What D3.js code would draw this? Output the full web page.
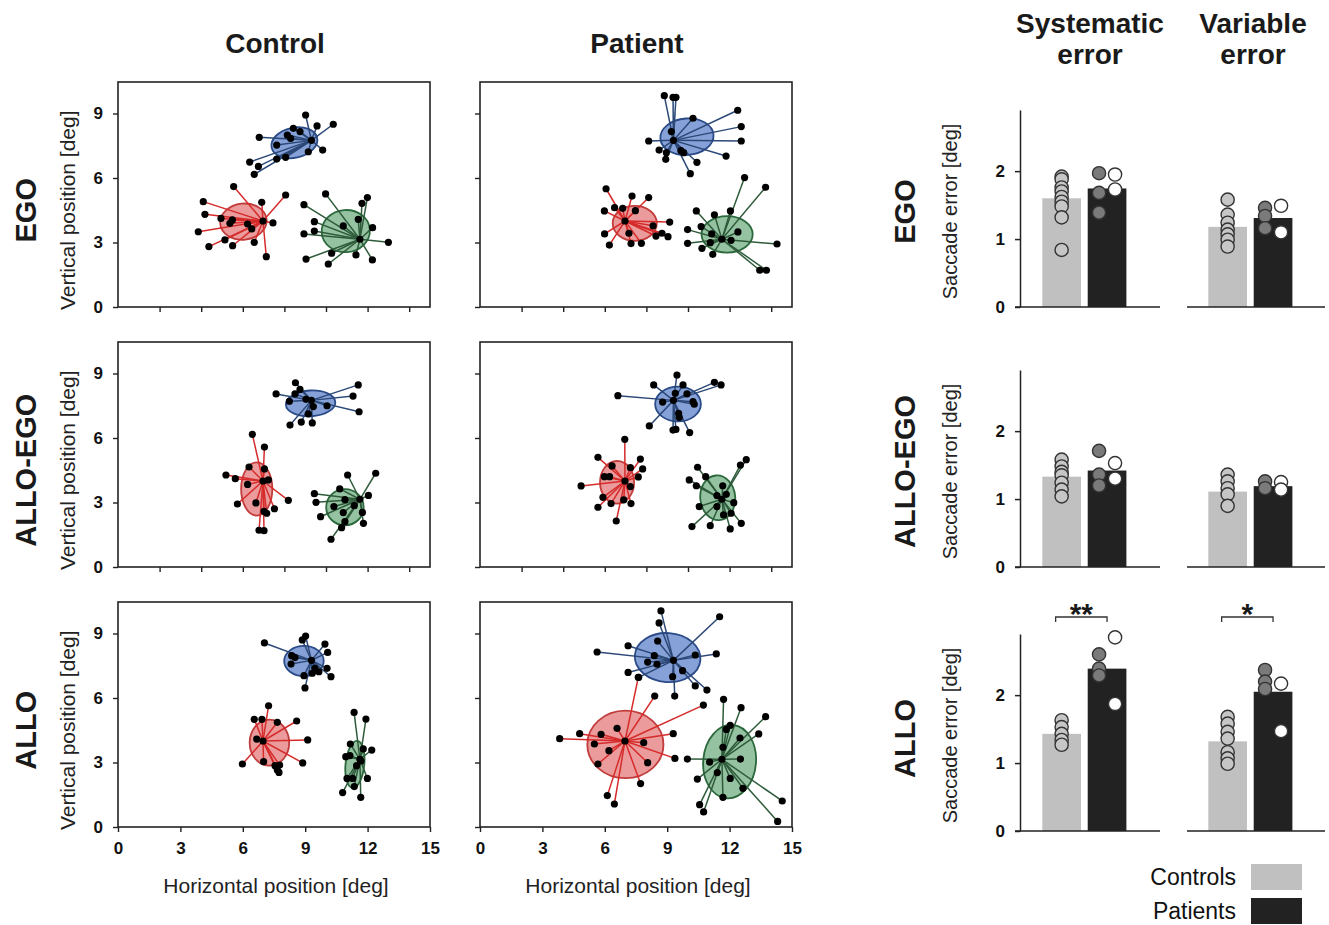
<!DOCTYPE html>
<html>
<head>
<meta charset="utf-8">
<script src="https://cdn.jsdelivr.net/npm/d3@7"></script>
<style>
  body { margin: 0; background: #fff; }
  svg { font-family: "Liberation Sans", Arial, sans-serif; }
</style>
</head>
<body>
<svg id="chart" width="1329" height="925"></svg>
<script>
// conditions (rows) and groups (columns)
var conditions = ['EGO', 'ALLO-EGO', 'ALLO'];
var groups = ['Control', 'Patient'];

// target locations [x, y] in deg: upper, left, right
var targetUpper = [9.3, 7.75];
var targetLeft = [6.97, 4.0];
var targetRight = [11.63, 3.15];

// saccade endpoints [x, y] in deg
var ctrlEgoUpper = [[9.02,8.93],[9.57,8.42],[10.35,8.50],[8.43,8.31],[8.75,8.16],[6.79,7.89],[8.14,8.00],[8.30,7.84],[7.63,7.53],[9.15,7.22],[9.84,7.30],[8.06,6.96],[7.63,6.88],[6.33,6.74],[6.75,6.54],[6.55,6.17]];
var ctrlEgoLeft = [[5.56,5.60],[4.10,4.90],[6.91,4.87],[8.06,5.21],[4.18,4.31],[4.95,4.12],[5.50,4.05],[5.38,3.89],[6.23,3.86],[6.43,3.63],[7.45,3.91],[3.86,3.50],[5.14,3.12],[4.37,2.81],[5.51,2.85],[6.55,3.01],[7.13,2.34]];
var ctrlEgoRight = [[9.98,5.26],[11.99,5.09],[11.73,4.82],[8.94,4.76],[9.44,3.97],[10.83,3.77],[11.55,4.08],[12.24,3.69],[9.44,3.53],[8.94,3.40],[13.0,3.01],[10.27,2.50],[11.44,2.42],[9.04,2.23],[10.11,2.00],[12.23,2.19]];

var patEgoUpper = [[8.86,9.83],[9.28,9.75],[9.42,9.75],[10.24,8.78],[12.39,9.15],[12.56,8.39],[12.56,7.72],[9.20,8.16],[8.11,7.72],[8.61,7.30],[8.96,7.18],[8.93,6.87],[9.66,7.27],[9.79,7.18],[10.43,6.73],[11.83,7.02],[10.11,6.20]];
var patEgoLeft = [[6.06,5.50],[7.31,5.16],[8.11,5.09],[6.47,4.62],[6.86,4.59],[5.98,4.47],[7.47,4.48],[9.12,3.95],[8.32,3.78],[5.99,3.40],[7.16,3.43],[8.46,3.30],[8.75,3.43],[9.04,3.27],[6.22,2.88],[7.26,2.95],[7.76,2.96]];
var patEgoRight = [[12.72,6.02],[13.73,5.57],[10.40,4.47],[11.27,4.29],[12.04,4.47],[9.98,3.60],[10.63,3.74],[11.14,3.40],[12.40,3.49],[12.07,3.10],[9.98,2.96],[11.07,2.99],[10.67,2.73],[11.19,2.45],[14.28,2.93],[13.45,1.71],[13.77,1.71]];

var ctrlAlloEgoUpper = [[8.53,8.57],[8.75,8.26],[8.51,8.05],[7.60,8.05],[11.55,8.47],[11.30,7.95],[8.24,7.71],[9.04,7.80],[9.39,7.46],[10.05,7.50],[11.59,7.22],[9.15,7.12],[8.81,6.74],[9.34,6.70],[8.27,6.60]];
var ctrlAlloEgoLeft = [[6.46,6.17],[7.04,5.58],[6.30,4.65],[7.04,4.56],[5.19,4.28],[5.64,4.11],[6.23,3.84],[7.23,4.05],[8.19,3.10],[5.74,2.93],[6.63,2.98],[7.02,2.59],[7.15,2.50],[7.52,2.71],[6.78,1.71],[7.02,1.69]];
var ctrlAlloEgoRight = [[11.04,4.28],[12.39,4.36],[10.66,3.63],[9.44,3.41],[9.52,3.01],[10.91,3.13],[12.04,3.33],[10.38,2.81],[11.36,2.85],[11.75,2.54],[10.83,2.53],[9.74,2.34],[10.91,2.11],[11.80,2.03],[10.75,1.83],[10.24,1.29]];

var patAlloEgoUpper = [[9.47,8.93],[8.35,8.47],[9.76,8.47],[9.39,8.08],[9.95,8.05],[6.63,7.97],[11.27,8.59],[11.59,8.47],[8.78,7.67],[10.24,7.69],[10.30,7.57],[9.55,7.15],[9.58,6.96],[8.14,6.56],[9.28,6.37],[9.42,6.40],[10.08,6.25]];
var patAlloEgoLeft = [[6.96,5.94],[5.67,5.10],[7.71,5.02],[6.35,4.70],[7.23,4.62],[7.82,4.56],[5.98,4.20],[6.23,4.20],[7.61,4.19],[4.86,3.77],[7.23,3.74],[5.91,3.24],[6.91,3.12],[6.30,2.95],[7.26,2.95],[5.67,2.78],[6.55,2.14]];
var patAlloEgoRight = [[12.80,4.99],[12.52,4.74],[10.46,4.64],[10.85,4.20],[10.06,4.05],[10.40,3.78],[11.67,3.78],[11.39,3.32],[11.84,3.38],[12.20,2.99],[10.54,2.81],[11.39,2.81],[12.07,2.50],[11.71,2.42],[12.56,2.03],[10.19,1.88],[11.07,1.92],[12.03,1.77]];

var ctrlAlloUpper = [[9.02,8.88],[8.86,8.70],[7.04,8.56],[9.95,8.51],[10.08,8.12],[8.35,7.97],[8.51,7.88],[8.32,7.58],[9.47,7.38],[9.66,7.22],[9.34,7.15],[10.05,7.38],[10.24,6.99],[8.94,7.04],[8.99,6.47]];
var ctrlAlloLeft = [[7.24,5.64],[6.55,5.01],[6.92,5.01],[7.66,4.87],[8.59,4.93],[6.67,4.09],[9.12,4.05],[5.98,2.93],[7.00,3.04],[7.55,2.85],[7.77,2.88],[7.66,2.65],[7.74,2.54],[8.88,2.98]];
var ctrlAlloRight = [[11.35,5.33],[11.92,5.02],[11.17,3.86],[11.79,3.63],[12.20,3.58],[10.95,3.27],[11.15,3.32],[11.68,3.07],[11.47,2.85],[11.01,2.26],[11.28,2.26],[11.99,2.26],[11.36,1.88],[10.80,1.60],[11.67,1.38]];

var patAlloUpper = [[8.70,10.05],[8.61,9.49],[11.52,9.78],[8.54,8.65],[7.12,8.43],[5.63,8.14],[8.38,7.97],[10.35,8.00],[11.36,8.05],[8.06,7.67],[8.51,7.57],[7.12,7.19],[9.74,7.27],[7.63,6.96],[9.26,6.99],[10.35,6.56],[10.91,6.37],[9.36,6.09]];
var patAlloLeft = [[7.61,6.96],[8.40,6.09],[10.74,5.67],[4.79,4.34],[6.59,4.59],[5.82,4.31],[3.83,4.11],[9.29,4.34],[5.50,3.86],[7.87,3.92],[6.20,3.55],[9.37,3.19],[5.67,2.93],[8.06,2.99],[7.72,2.02],[6.12,1.46],[6.46,1.07]];
var patAlloRight = [[11.71,5.94],[12.55,5.55],[13.73,5.13],[11.84,4.54],[12.03,4.73],[13.40,4.33],[12.50,4.14],[11.68,3.71],[9.97,3.16],[11.04,3.02],[12.52,3.16],[11.41,2.53],[12.03,2.26],[10.45,2.23],[12.64,1.80],[11.68,1.38],[10.56,1.04],[10.75,0.70],[14.53,1.21],[14.31,0.26]];

// endpoint ellipses [cx, cy, rx, ry, angle] for upper, left, right target
var ctrlEgoEll = [[8.48,7.64,1.12,0.70,-12],[6.03,3.97,1.12,0.84,-6],[10.95,3.53,1.16,0.98,-4]];
var patEgoEll = [[9.95,7.92,1.28,0.85,-4],[7.44,3.89,1.06,0.81,0],[11.88,3.38,1.23,0.85,0]];
var ctrlAlloEgoEll = [[9.26,7.61,1.19,0.60,-3],[6.67,3.63,0.75,1.24,0],[10.91,2.78,0.90,0.84,0]];
var patAlloEgoEll = [[9.52,7.58,1.10,0.81,0],[6.59,3.94,0.82,0.99,0],[11.43,3.22,0.84,1.04,-5]];
var ctrlAlloEll = [[8.94,7.72,0.95,0.70,0],[7.28,3.92,0.95,1.07,0],[11.39,2.91,0.45,1.10,6]];
var patAlloEll = [[9.02,7.88,1.58,1.14,4],[6.99,3.84,1.83,1.57,0],[12.00,3.04,1.27,1.71,5]];

// saccade error bars (per condition: EGO, ALLO-EGO, ALLO)
var sysCtrlMean = [1.60, 1.33, 1.43];
var sysPatMean = [1.745, 1.42, 2.39];
var varCtrlMean = [1.18, 1.11, 1.32];
var varPatMean = [1.31, 1.19, 2.05];

var sysCtrl = [[1.92,1.88,1.76,1.70,1.62,1.55,1.48,1.32,0.84],[1.58,1.48,1.40,1.35,1.24,1.14,1.04],[1.63,1.53,1.43,1.34,1.27]];
var sysPatGray = [[1.97,1.68,1.39],[1.71,1.36,1.20],[2.60,2.39,2.29]];
var sysPatWhite = [[1.95,1.73],[1.53,1.30],[2.85,1.87]];
var varCtrl = [[1.58,1.36,1.24,1.14,1.07,0.99,0.89],[1.36,1.26,1.16,1.07,0.90],[1.68,1.58,1.46,1.36,1.16,1.07,0.99]];
var varPatGray = [[1.46,1.34,1.16],[1.26,1.16],[2.37,2.20,2.09]];
var varPatWhite = [[1.49,1.10],[1.25,1.14],[2.17,1.47]];

var sigLabels = [null, null, ['**', '*']];
var yTicksScatter = [0, 3, 6, 9];
var xTicksBottom = [0, 3, 6, 9, 12, 15];
var xTicksTop = [2, 4, 6, 8, 10, 12, 14];
var barTicks = [0, 1, 2];

var panels = [
    { group: 0, cond: 0, sets: [ctrlEgoUpper, ctrlEgoLeft, ctrlEgoRight], ell: ctrlEgoEll },
    { group: 1, cond: 0, sets: [patEgoUpper, patEgoLeft, patEgoRight], ell: patEgoEll },
    { group: 0, cond: 1, sets: [ctrlAlloEgoUpper, ctrlAlloEgoLeft, ctrlAlloEgoRight], ell: ctrlAlloEgoEll },
    { group: 1, cond: 1, sets: [patAlloEgoUpper, patAlloEgoLeft, patAlloEgoRight], ell: patAlloEgoEll },
    { group: 0, cond: 2, sets: [ctrlAlloUpper, ctrlAlloLeft, ctrlAlloRight], ell: ctrlAlloEll },
    { group: 1, cond: 2, sets: [patAlloUpper, patAlloLeft, patAlloRight], ell: patAlloEll }
];
var targets = [targetUpper, targetLeft, targetRight];

var fillColors = ['#7091d0', '#e88a8a', '#82b892'];
var edgeColors = ['#2a4a88', '#c23c3c', '#2b683c'];
var lineColors = ['#2b4877', '#d62b2b', '#2f5b3b'];

var svg = d3.select('#chart');

var colLeft = [118, 480];
var rowTop = [82, 342, 602];
var pw = 312, ph = 225;

function styleTicks(a) {
    a.selectAll('text')
        .attr('fill', '#111')
        .style('font-size', '17px')
        .style('font-weight', 'bold')
        .style('font-family', '"Liberation Sans", Arial, sans-serif');
}

// column titles
groups.forEach(function (g, i) {
    svg.append('text')
        .attr('x', colLeft[i] + pw / 2 + 1)
        .attr('y', 53)
        .attr('text-anchor', 'middle')
        .style('font-size', '28px')
        .style('font-weight', 'bold')
        .style('fill', '#1a1a1a')
        .text(g);
});

panels.forEach(function (p) {
    var x0 = colLeft[p.group], y0 = rowTop[p.cond];
    var x = d3.scaleLinear().domain([0, 15]).range([x0, x0 + pw]);
    var y = d3.scaleLinear().domain([0, 10.465]).range([y0 + ph, y0]);
    var g = svg.append('g');

    var isBottom = p.cond === 2;
    var xAxis = d3.axisBottom(x)
        .tickValues(isBottom ? xTicksBottom : xTicksTop)
        .tickSize(5).tickSizeOuter(0).tickPadding(10)
        .tickFormat(isBottom ? d3.format('d') : '');
    var yAxis = d3.axisLeft(y)
        .tickValues(yTicksScatter)
        .tickSize(5).tickSizeOuter(0).tickPadding(10)
        .tickFormat(p.group === 0 ? d3.format('d') : '');

    var ax = g.append('g').attr('transform', 'translate(0,' + (y0 + ph) + ')').call(xAxis);
    var ay = g.append('g').attr('transform', 'translate(' + x0 + ',0)').call(yAxis);
    [ax, ay].forEach(function (a) {
        a.select('.domain').remove();
        a.selectAll('line').attr('stroke', '#222').attr('stroke-width', 1.4);
        styleTicks(a);
    });

    // ellipses
    p.ell.forEach(function (e, k) {
        g.append('ellipse')
            .attr('cx', 0).attr('cy', 0)
            .attr('rx', x(e[2]) - x(0))
            .attr('ry', y(0) - y(e[3]))
            .attr('transform', 'translate(' + x(e[0]) + ',' + y(e[1]) + ') rotate(' + e[4] + ')')
            .style('fill', fillColors[k])
            .style('fill-opacity', 0.85)
            .style('stroke', edgeColors[k])
            .style('stroke-width', 1.8);
    });

    // lines from target to each endpoint
    p.sets.forEach(function (pts, k) {
        var t = targets[k];
        g.selectAll(null)
            .data(pts)
            .enter()
            .append('line')
            .attr('x1', x(t[0])).attr('y1', y(t[1]))
            .attr('x2', function (d) { return x(d[0]); })
            .attr('y2', function (d) { return y(d[1]); })
            .style('stroke', lineColors[k])
            .style('stroke-width', 1.5);
    });
    p.sets.forEach(function (pts, k) {
        var t = targets[k];
        g.selectAll(null)
            .data(pts.concat([t]))
            .enter()
            .append('circle')
            .attr('cx', function (d) { return x(d[0]); })
            .attr('cy', function (d) { return y(d[1]); })
            .attr('r', 3.6)
            .style('fill', '#000');
    });

    // frame
    g.append('rect')
        .attr('x', x0).attr('y', y0)
        .attr('width', pw).attr('height', ph)
        .style('fill', 'none')
        .style('stroke', '#222')
        .style('stroke-width', 1.6);

    var yMid = (y(0) + y(9)) / 2;
    if (p.group === 0) {
        svg.append('text')
            .attr('transform', 'translate(75,' + yMid + ') rotate(-90)')
            .attr('text-anchor', 'middle')
            .style('font-size', '21px')
            .style('fill', '#222')
            .text('Vertical position [deg]');
        svg.append('text')
            .attr('transform', 'translate(36,' + yMid + ') rotate(-90)')
            .attr('text-anchor', 'middle')
            .style('font-size', '29px')
            .style('font-weight', 'bold')
            .style('fill', '#1a1a1a')
            .text(conditions[p.cond]);
    }
    if (isBottom) {
        svg.append('text')
            .attr('x', x0 + pw / 2 + 2)
            .attr('y', 893)
            .attr('text-anchor', 'middle')
            .style('font-size', '21px')
            .style('fill', '#222')
            .text('Horizontal position [deg]');
    }
});

// ---- bar charts ----
var barTitles = [['Systematic', 'error'], ['Variable', 'error']];
var barCenters = [1090, 1253];
barTitles.forEach(function (t, i) {
    t.forEach(function (line, j) {
        svg.append('text')
            .attr('x', barCenters[i])
            .attr('y', 33 + j * 31)
            .attr('text-anchor', 'middle')
            .style('font-size', '28px')
            .style('font-weight', 'bold')
            .style('fill', '#1a1a1a')
            .text(line);
    });
});

var barBottom = [307, 567, 831];
var barH = 197;
var barRanges = [[1042.3, 1126.4], [1208.3, 1292.4]];
var baseLines = [[1015, 1160], [1187, 1325]];
var measures = [
    { mean: [sysCtrlMean, sysPatMean], ctrl: sysCtrl, gray: sysPatGray, white: sysPatWhite },
    { mean: [varCtrlMean, varPatMean], ctrl: varCtrl, gray: varPatGray, white: varPatWhite }
];
var barGroups = ['Controls', 'Patients'];
var barFill = ['#c0c0c0', '#222222'];

conditions.forEach(function (cond, r) {
    var yb = barBottom[r];
    var y = d3.scaleLinear().domain([0, 2.9]).range([yb, yb - barH]);

    var ay = svg.append('g')
        .attr('transform', 'translate(1020,0)')
        .call(d3.axisLeft(y).tickValues(barTicks).tickSize(5).tickSizeOuter(0).tickPadding(10).tickFormat(d3.format('d')));
    ay.selectAll('line, path').attr('stroke', '#222').attr('stroke-width', 1.5);
    styleTicks(ay);

    svg.append('text')
        .attr('transform', 'translate(957,' + (yb - barH / 2 + 3) + ') rotate(-90)')
        .attr('text-anchor', 'middle')
        .style('font-size', '20px')
        .style('fill', '#222')
        .text('Saccade error [deg]');
    svg.append('text')
        .attr('transform', 'translate(915,' + ((yb + y(2.9)) / 2 + (r === 2 ? 6 : 3)) + ') rotate(-90)')
        .attr('text-anchor', 'middle')
        .style('font-size', '29px')
        .style('font-weight', 'bold')
        .style('fill', '#1a1a1a')
        .text(cond);

    measures.forEach(function (m, c) {
        var x = d3.scaleBand().domain(barGroups).range(barRanges[c]).paddingInner(0.148);
        var bw = x.bandwidth();

        svg.selectAll(null)
            .data(barGroups)
            .enter()
            .append('rect')
            .attr('x', function (d) { return x(d); })
            .attr('y', function (d, i) { return y(m.mean[i][r]); })
            .attr('width', bw)
            .attr('height', function (d, i) { return yb - y(m.mean[i][r]); })
            .style('fill', function (d, i) { return barFill[i]; });

        svg.append('line')
            .attr('x1', baseLines[c][0]).attr('x2', baseLines[c][1])
            .attr('y1', yb).attr('y2', yb)
            .style('stroke', '#222').style('stroke-width', 1.5);

        var cx0 = x('Controls') + bw / 2;
        var cx1 = x('Patients') + bw / 2;
        svg.selectAll(null)
            .data(m.ctrl[r])
            .enter()
            .append('circle')
            .attr('cx', cx0)
            .attr('cy', function (d) { return y(d); })
            .attr('r', 6.6)
            .style('fill', '#c6c6c6')
            .style('stroke', '#333')
            .style('stroke-width', 1.4);
        svg.selectAll(null)
            .data(m.gray[r])
            .enter()
            .append('circle')
            .attr('cx', cx1 - 8)
            .attr('cy', function (d) { return y(d); })
            .attr('r', 6.6)
            .style('fill', '#7a7a7a')
            .style('stroke', '#333')
            .style('stroke-width', 1.4);
        svg.selectAll(null)
            .data(m.white[r])
            .enter()
            .append('circle')
            .attr('cx', cx1 + 8)
            .attr('cy', function (d) { return y(d); })
            .attr('r', 6.6)
            .style('fill', '#fff')
            .style('stroke', '#333')
            .style('stroke-width', 1.4);

        if (sigLabels[r]) {
            var by = 617;
            svg.append('path')
                .attr('d', 'M' + (cx0 - 6) + ',' + (by + 5) + 'V' + by + 'H' + cx1 + 'V' + (by + 5))
                .style('fill', 'none')
                .style('stroke', '#333')
                .style('stroke-width', 1.3);
            svg.append('text')
                .attr('x', (cx0 - 6 + cx1) / 2)
                .attr('y', by + 7)
                .attr('text-anchor', 'middle')
                .style('font-size', '30px')
                .style('font-weight', 'bold')
                .style('fill', '#1a1a1a')
                .text(sigLabels[r][c]);
        }
    });
});

// legend
barGroups.forEach(function (gname, i) {
    var ly = 864 + i * 34;
    svg.append('rect')
        .attr('x', 1251).attr('y', ly)
        .attr('width', 51).attr('height', 26)
        .style('fill', barFill[i]);
    svg.append('text')
        .attr('x', 1236).attr('y', ly + 21)
        .attr('text-anchor', 'end')
        .style('font-size', '23px')
        .style('fill', '#111')
        .text(gname);
});
</script>
</body>
</html>
